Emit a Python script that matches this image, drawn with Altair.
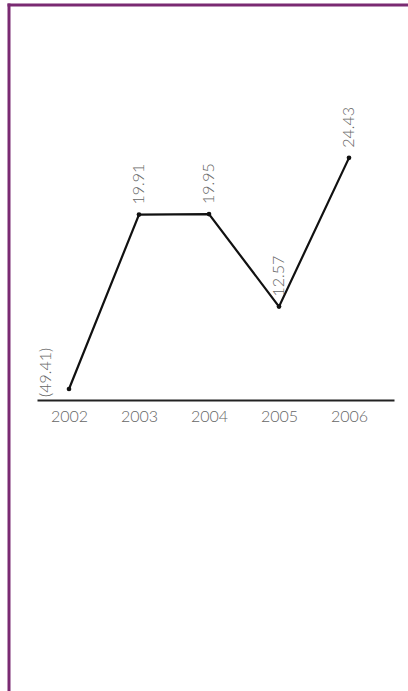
import altair as alt
import pandas as pd

years = ["2002", "2003", "2004", "2005", "2006"]
values = [-49.41, 19.91, 19.95, 12.57, 24.43]

df = pd.DataFrame({"year": years, "value": values})
df["label"] = [f"({abs(v):.2f})" if v < 0 else f"{v:.2f}" for v in values]

FONT = "Lato"
GRAY = "#666666"
FRAME = "#7a2a72"

x_enc = alt.X(
    "year:O",
    scale=alt.Scale(type="point", padding=0.55, align=0.4156),
    axis=alt.Axis(
        title=None, ticks=False, grid=False, labelAngle=0,
        domainColor="#222222", domainWidth=2, offset=11,
        labelColor=GRAY, labelFontSize=16, labelFont=FONT, labelFontWeight=300,
        labelPadding=8,
    ),
)
y_enc = alt.Y(
    "value:Q",
    scale=alt.Scale(domain=[6, 30], clamp=True, nice=False, zero=False),
    axis=None,
)

base = alt.Chart(df)
one = base.transform_filter("datum.year == '2002'")

frame_left = one.mark_rule(color=FRAME, strokeWidth=3).encode(
    x=alt.value(-28), y=alt.value(-84.5), y2=alt.value(603)
)
frame_top = one.mark_rule(color=FRAME, strokeWidth=3).encode(
    y=alt.value(-83), x=alt.value(-29.5), x2=alt.value(371)
)

line = base.mark_line(color="#111111", strokeWidth=2.2).encode(x=x_enc, y=y_enc)
pts = base.mark_circle(color="#111111", size=22, opacity=1).encode(x=x_enc, y=y_enc)

lab_pos = base.transform_filter("datum.value >= 0").mark_text(
    angle=270, align="left", baseline="middle", dx=10,
    fontSize=16, font=FONT, fontWeight=300, color=GRAY,
).encode(x=x_enc, y=y_enc, text="label:N")

lab_neg = base.transform_filter("datum.value < 0").mark_text(
    angle=270, align="left", baseline="middle", dx=-8, dy=-23.5,
    fontSize=16, font=FONT, fontWeight=300, color=GRAY,
).encode(x=x_enc, y=y_enc, text="label:N")

chart = alt.layer(frame_left, frame_top, line, pts, lab_pos, lab_neg).properties(
    width=357, height=301,
    autosize=alt.AutoSizeParams(type="none"),
    padding={"left": 37, "top": 88, "right": 14, "bottom": 302},
    background="white",
).configure_view(stroke=None)

chart.save("out.html", embed_options={"renderer": "svg", "actions": False})
